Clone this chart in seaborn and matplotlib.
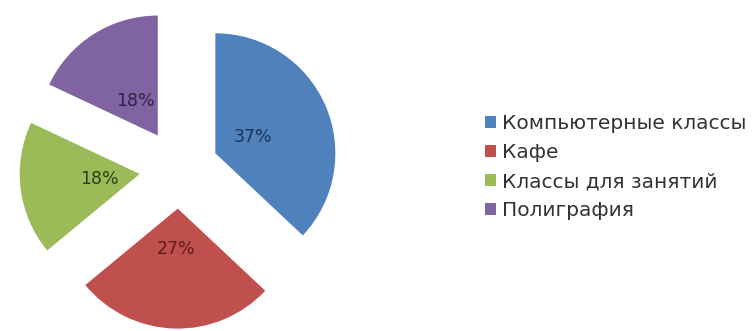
import matplotlib
matplotlib.use("Agg")
import matplotlib.pyplot as plt
import seaborn as sns
from matplotlib.patches import Patch

# data
categories = ["Компьютерные классы", "Кафе", "Классы для занятий", "Полиграфия"]
shares = [37, 27, 18, 18]
slice_colors = ["#4F81BD", "#C0504D", "#9BBB59", "#8064A2"]
label_colors = ["#1c3357", "#5a1e1c", "#2f3f12", "#30224a"]

sns.set_theme(style="white")
plt.rcParams["font.family"] = ["DejaVu Sans"]

W, H = 755, 331
fig = plt.figure(figsize=(W / 100, H / 100), dpi=100)
ax = fig.add_axes([0, 0, 1, 1])

# pie center at pixel (179, 169 from top), radius 120 px
cx, cy, r = 179, 169, 120
wedges, texts, autotexts = ax.pie(
    shares,
    colors=slice_colors,
    startangle=90,
    counterclock=False,
    explode=[0.33] * len(shares),
    autopct="%d%%",
    pctdistance=0.34,
    textprops={"fontsize": 12.5},
    wedgeprops={"linewidth": 0},
)
for t, c in zip(autotexts, label_colors):
    t.set_color(c)

ax.set_aspect("auto")
ax.set_xlim(-cx / r, (W - cx) / r)
ax.set_ylim(-(H - cy) / r, cy / r)
ax.axis("off")

handles = [Patch(facecolor=c, edgecolor="none") for c in slice_colors]
fig.legend(
    handles, categories,
    loc="center left",
    bbox_to_anchor=(485 / W, 1 - 167 / H),
    frameon=False,
    fontsize=14.5,
    handlelength=0.55,
    handleheight=0.55,
    handletextpad=0.3,
    labelspacing=0.5,
    borderpad=0,
    borderaxespad=0,
    labelcolor="#333333",
)

fig.savefig("out.png", dpi=100)
